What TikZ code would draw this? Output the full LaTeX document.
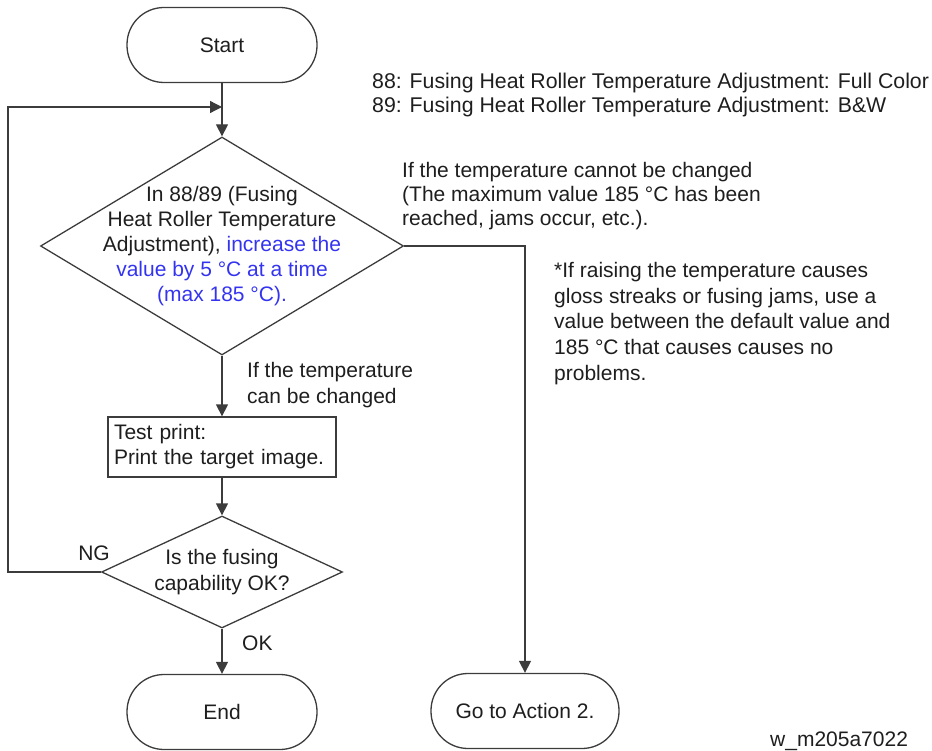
\documentclass[tikz,border=0pt]{standalone}
\usepackage{fontspec}
\setmainfont{Liberation Sans}
\usetikzlibrary{shapes.geometric,arrows.meta}
\definecolor{flowline}{HTML}{3C3C3C}
\definecolor{flowtext}{HTML}{1E1E1E}
\definecolor{hiblue}{HTML}{3434F0}

\begin{document}
\begin{tikzpicture}[x=1pt,y=1pt,
		every node/.style={font=\fontsize{21}{25}\selectfont, text=flowtext},
		terminal/.style={draw=flowline, line width=1.3pt, rectangle, rounded corners=37pt, minimum width=190pt, minimum height=75pt},
		decision/.style={draw=flowline, line width=1.3pt, diamond, inner sep=0pt},
		process/.style={draw=flowline, line width=1.3pt, rectangle, minimum width=228pt, minimum height=60pt, text width=216pt, inner sep=6pt, align=left},
		arrow/.style={draw=flowline, line width=1.3pt, -{Triangle[length=12pt,width=12pt]}},
		note/.style={anchor=west, align=left, inner sep=0pt}]
			\useasboundingbox (0,0) rectangle (932,-751);
			\node[terminal] (start) at (222,-45) {Start};
			\node[decision, minimum width=363pt, minimum height=218pt] (adjust) at (222,-246) {};
			\node[align=center, inner sep=0pt] (adjusttext) at (adjust.center) {In 88/89 (Fusing\\Heat Roller Temperature\\Adjustment), \textcolor{hiblue}{increase the}\\\textcolor{hiblue}{value by 5 °C at a time}\\\textcolor{hiblue}{(max 185 °C).}};
			\node[process] (testprint) at (222,-447) {Test print:\\Print the target image.};
			\node[decision, minimum width=241pt, minimum height=112pt] (check) at (222,-572) {};
			\node[align=center, inner sep=0pt, font=\fontsize{21}{26}\selectfont] (checktext) at (check.center) {Is the fusing\\capability OK?};
			\node[terminal] (finish) at (222,-712) {End};
			\node[terminal, minimum width=188pt] (action) at (525,-711) {Go to Action 2.};
			\coordinate (merge) at (222,-107);
			\draw[arrow] (start.south) -- (adjust.north);
			\draw[arrow] (adjust.south) -- (testprint.north);
			\draw[arrow] (testprint.south) -- (check.north);
			\draw[arrow] (check.south) -- (finish.north);
			\draw[arrow] (check.west) -- (8,-572) |- (merge);
			\draw[arrow] (adjust.east) -| (action.north);
			\node[note, font=\fontsize{21.3}{24}\selectfont] (codes) at (372,-95) {88: Fusing Heat Roller Temperature Adjustment: Full Color\\89: Fusing Heat Roller Temperature Adjustment: B\&W};
			\node[note, font=\fontsize{21}{24}\selectfont] (nochange) at (402,-196) {If the temperature cannot be changed\\(The maximum value 185 °C has been\\reached, jams occur, etc.).};
			\node[note, font=\fontsize{21}{25.75}\selectfont] (remark) at (554,-323.5) {*If raising the temperature causes\\gloss streaks or fusing jams, use a\\value between the default value and\\185 °C that causes causes no\\problems.};
			\node[note, font=\fontsize{21}{26}\selectfont] (changed) at (247,-385) {If the temperature\\can be changed};
			\node[inner sep=0pt] (ng) at (94,-553) {NG};
			\node[note] (ok) at (242,-643) {OK};
			\node[note] (figid) at (770,-741) {w\_m205a7022};
\end{tikzpicture}
\end{document}
